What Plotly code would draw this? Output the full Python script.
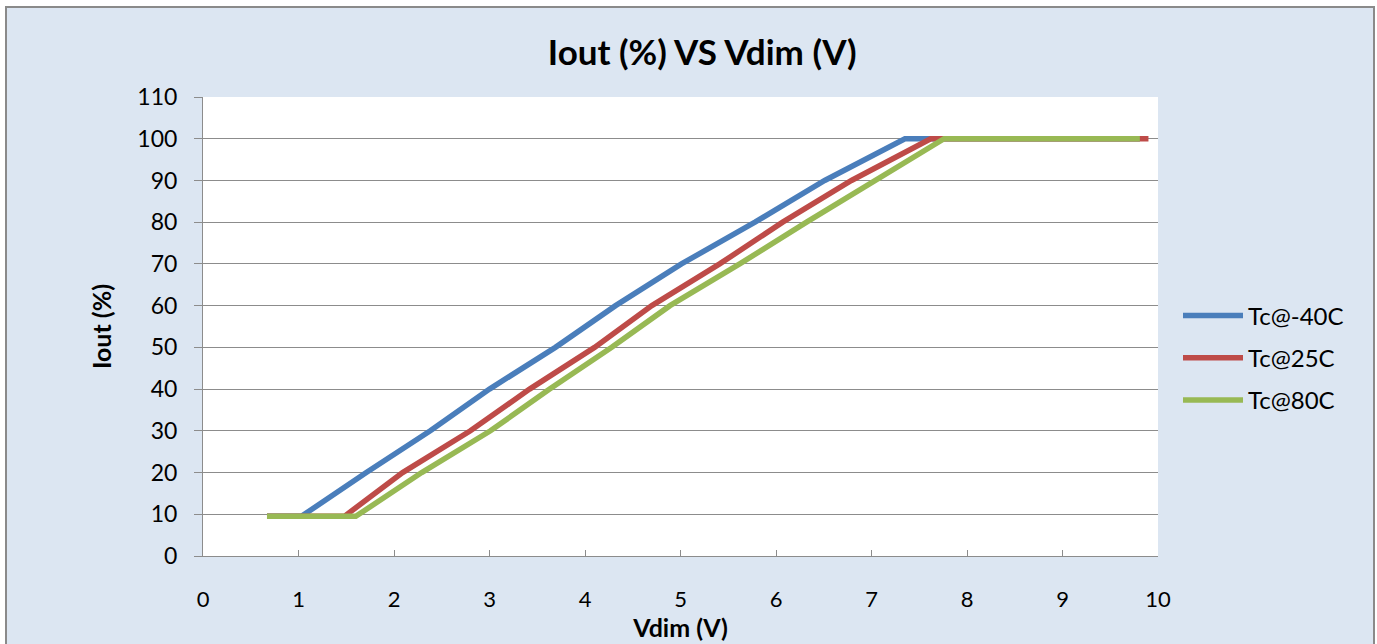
import plotly.graph_objects as go

# ---- data ----
series_names = ["Tc@-40C", "Tc@25C", "Tc@80C"]
series_colors = ["#4A7EBB", "#BE4B48", "#98B954"]

vdim_m40 = [0.67, 1.03, 1.71, 2.38, 3.00, 3.69, 4.32, 5.01, 5.78, 6.51, 7.35, 9.81]
iout_m40 = [9.5, 9.5, 20, 30, 40, 50, 60, 70, 80, 90, 100, 100]

vdim_25 = [0.67, 1.48, 2.09, 2.80, 3.42, 4.10, 4.70, 5.41, 6.07, 6.79, 7.62, 9.90]
iout_25 = [9.5, 9.5, 20, 30, 40, 50, 60, 70, 80, 90, 100, 100]

vdim_80 = [0.67, 1.60, 2.29, 3.01, 3.63, 4.28, 4.89, 5.62, 6.32, 7.04, 7.76, 9.81]
iout_80 = [9.5, 9.5, 20, 30, 40, 50, 60, 70, 80, 90, 100, 100]

x_ticks = list(range(0, 11))
y_ticks = list(range(0, 111, 10))

title_text = "Iout (%) VS Vdim (V)"
x_title = "Vdim (V)"
y_title = "Iout (%)"

FONT = "Lato"
GRID = "#8C8C8C"

fig = go.Figure()
for name, color, xs, ys in zip(series_names, series_colors,
                                [vdim_m40, vdim_25, vdim_80],
                                [iout_m40, iout_25, iout_80]):
    fig.add_trace(go.Scatter(x=xs, y=ys, mode="lines", name=name,
                             legendgroup=name,
                             line=dict(color=color, width=5.5)))

W, H = 1377, 644
L, R, T, B = 203, 1377 - 1158, 97, 644 - 556
pw, ph = W - L - R, H - T - B

def px(xp):
    return (xp - L) / pw

def py(yp):
    return (H - B - yp) / ph

fig.update_layout(
    width=W, height=H,
    margin=dict(l=L, r=R, t=T, b=B, pad=0, autoexpand=False),
    paper_bgcolor="white",
    plot_bgcolor="white",
    font=dict(family=FONT, color="black", size=22),
    title=dict(text="<b>" + title_text + "</b>", x=px(690), xanchor="center",
               y=1 - 53 / H, yanchor="middle",
               font=dict(family=FONT, size=35, color="black")),
    showlegend=True,
    legend=dict(x=px(1178), xanchor="left", y=py(358), yanchor="middle",
                bgcolor="rgba(0,0,0,0)", font=dict(family=FONT, size=24),
                tracegroupgap=8, itemwidth=60),
    shapes=[
        dict(type="rect", xref="paper", yref="paper", layer="below",
             x0=px(6), x1=px(1374), y0=py(7), y1=py(660),
             fillcolor="#DCE6F2", line=dict(color="#8A8A8A", width=2)),
        dict(type="rect", xref="x", yref="y", layer="below",
             x0=0, x1=10, y0=0, y1=110,
             fillcolor="white", line=dict(width=0)),
    ],
)

fig.update_xaxes(
    range=[0, 10], tickvals=x_ticks, ticktext=[str(v) for v in x_ticks],
    showgrid=False, zeroline=False, automargin=False,
    showline=True, linecolor=GRID, linewidth=1,
    ticks="inside", ticklen=6, tickcolor=GRID, tickwidth=1,
    ticklabelstandoff=24,
    tickfont=dict(family=FONT, size=22),
    title=dict(text="<b>" + x_title + "</b>", standoff=5,
               font=dict(family=FONT, size=25)),
)
fig.update_yaxes(
    range=[0, 110], tickvals=y_ticks, ticktext=[str(v) for v in y_ticks],
    showgrid=True, gridcolor=GRID, gridwidth=1, zeroline=False, automargin=False,
    showline=True, linecolor=GRID, linewidth=1,
    ticks="outside", ticklen=8, tickcolor=GRID, tickwidth=1,
    ticklabelstandoff=12,
    tickfont=dict(family=FONT, size=23),
    title=dict(text="<b>" + y_title + "</b>", standoff=18,
               font=dict(family=FONT, size=25)),
)

fig.write_html("out.html",
               config={"displayModeBar": False},
               post_script="document.body.style.margin='0';document.body.style.overflow='hidden';")
